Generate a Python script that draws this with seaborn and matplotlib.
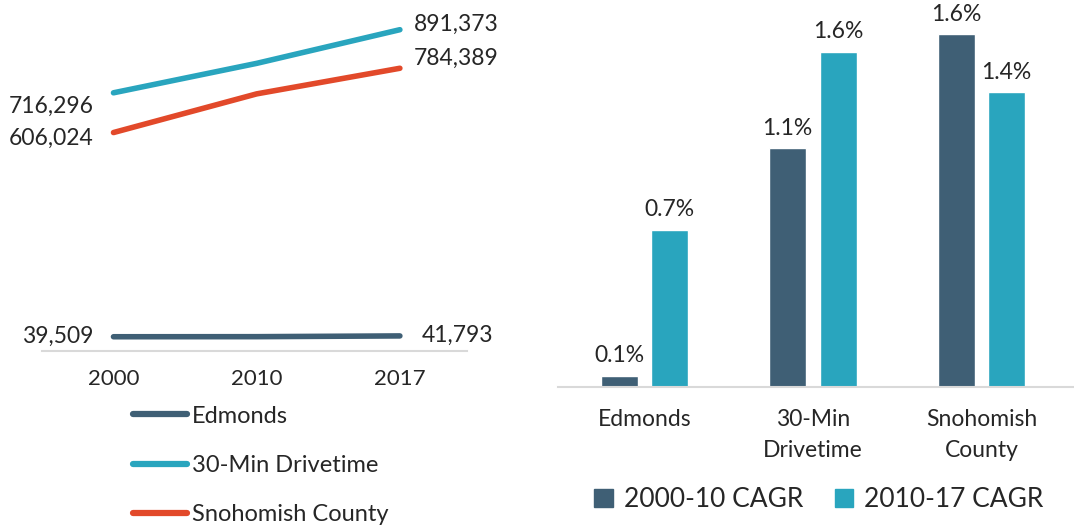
import matplotlib.pyplot as plt
import pandas as pd
import seaborn as sns
from matplotlib.lines import Line2D
from matplotlib.patches import Patch

years = ["2000", "2010", "2017"]
areas = ["Edmonds", "30-Min Drivetime", "Snohomish County"]
edmonds_pop = [39509, 39709, 41793]
drivetime_pop = [716296, 798000, 891373]
snohomish_pop = [606024, 713335, 784389]

bar_areas = ["Edmonds", "30-Min\nDrivetime", "Snohomish\nCounty"]
cagr_periods = ["2000-10 CAGR", "2010-17 CAGR"]
cagr_2000_10 = [0.052, 1.11, 1.64]
cagr_2010_17 = [0.73, 1.56, 1.37]

line_colors = ["#3F5F75", "#29A5BE", "#E2492A"]
bar_colors = ["#3F5F75", "#29A5BE"]

sns.set_theme(style="white")
plt.rcParams["font.family"] = ["Lato", "DejaVu Sans"]

fig = plt.figure(figsize=(10.74, 5.27), dpi=100)

# ---- left: population lines
pop = pd.DataFrame({
    "year": years * 3,
    "area": [a for a in areas for _ in years],
    "pop": edmonds_pop + drivetime_pop + snohomish_pop,
})
ax1 = fig.add_axes([0.039, 0.334, 0.396, 0.66])
sns.lineplot(data=pop, x="year", y="pop", hue="area", hue_order=areas,
             palette=line_colors, linewidth=4, legend=False, ax=ax1,
             solid_capstyle="round")
ax1.set_xlim(-0.5, 2.47)
ax1.set_ylim(0, 965000)
ax1.set_yticks([])
ax1.set_xlabel("")
ax1.set_ylabel("")
for s in ["top", "right", "left"]:
    ax1.spines[s].set_visible(False)
ax1.spines["bottom"].set_color("#D9D9D9")
ax1.spines["bottom"].set_linewidth(1.5)
ax1.tick_params(axis="x", labelsize=16, pad=13, length=0)

series = [edmonds_pop, drivetime_pop, snohomish_pop]
left_off = [(-20, 0), (-20, -14), (-20, -6)]
right_off = [(22, 1), (14, 5), (14, 10)]
for vals, lo, ro in zip(series, left_off, right_off):
    ax1.annotate(f"{vals[0]:,}", (0, vals[0]), xytext=lo, textcoords="offset pixels",
                 ha="right", va="center", fontsize=16.5)
    ax1.annotate(f"{vals[-1]:,}", (2, vals[-1]), xytext=ro, textcoords="offset pixels",
                 ha="left", va="center", fontsize=16.5)

handles = [Line2D([], [], color=c, lw=4.5, solid_capstyle="round") for c in line_colors]
fig.legend(handles, areas, loc="upper left", bbox_to_anchor=(0.115, 0.248),
           frameon=False, fontsize=17, handlelength=2.3, handletextpad=0.2,
           labelspacing=1.2, borderaxespad=0)

# ---- right: CAGR bars
cagr = pd.DataFrame({
    "area": bar_areas * 2,
    "period": [p for p in cagr_periods for _ in bar_areas],
    "cagr": cagr_2000_10 + cagr_2010_17,
})
ax2 = fig.add_axes([0.52, 0.266, 0.48, 0.734])
sns.barplot(data=cagr, x="area", y="cagr", hue="period", hue_order=cagr_periods,
            palette=bar_colors, width=0.6, gap=0.27, saturation=1,
            legend=False, ax=ax2)
ax2.set_xlim(-0.51, 2.55)
ax2.set_ylim(0, 1.8)
ax2.set_yticks([])
ax2.set_xlabel("")
ax2.set_ylabel("")
for s in ["top", "right", "left"]:
    ax2.spines[s].set_visible(False)
ax2.spines["bottom"].set_color("#D9D9D9")
ax2.spines["bottom"].set_linewidth(1.5)
ax2.tick_params(axis="x", labelsize=16.5, pad=16, length=0)
for lbl in ax2.get_xticklabels():
    lbl.set_linespacing(1.6)
for cont in ax2.containers:
    ax2.bar_label(cont, fmt="%.1f%%", padding=7, fontsize=16.5)

bar_handles = [Patch(color=c) for c in bar_colors]
fig.legend(bar_handles, cagr_periods, loc="lower left", bbox_to_anchor=(0.54, 0.0),
           ncol=2, frameon=False, fontsize=19, handlelength=0.7, handleheight=0.7,
           handletextpad=0.4, columnspacing=1.2, borderaxespad=0.15)

fig.savefig("out.png", dpi=100)
